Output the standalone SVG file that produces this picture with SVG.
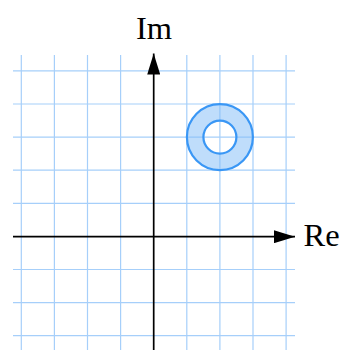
<svg xmlns="http://www.w3.org/2000/svg" width="342" height="350" viewBox="0 0 342 350">
<style>
.grid line{stroke:#a6cffa;stroke-width:1.2}
.axis{stroke:#000;stroke-width:1.7;fill:none}
.lbl{font-family:"Liberation Serif","Times New Roman",serif;font-size:32.5px;fill:#000}
</style>
<defs>
<marker id="ah" viewBox="0 0 21 13" refX="21" refY="6.5" markerWidth="21" markerHeight="13" markerUnits="userSpaceOnUse" orient="auto">
<path d="M0,0 L21,6.5 L0,13 Z" fill="#000"/>
</marker>
</defs>
<rect width="342" height="350" fill="#fff"/>
<g class="grid">
<line x1="21.3" y1="55" x2="21.3" y2="350"/>
<line x1="54.4" y1="55" x2="54.4" y2="350"/>
<line x1="87.5" y1="55" x2="87.5" y2="350"/>
<line x1="120.6" y1="55" x2="120.6" y2="350"/>
<line x1="186.8" y1="55" x2="186.8" y2="350"/>
<line x1="219.9" y1="55" x2="219.9" y2="350"/>
<line x1="253" y1="55" x2="253" y2="350"/>
<line x1="286.1" y1="55" x2="286.1" y2="350"/>
<line x1="13" y1="70.8" x2="295" y2="70.8"/>
<line x1="13" y1="104" x2="295" y2="104"/>
<line x1="13" y1="137.1" x2="295" y2="137.1"/>
<line x1="13" y1="170.2" x2="295" y2="170.2"/>
<line x1="13" y1="203.3" x2="295" y2="203.3"/>
<line x1="13" y1="269.5" x2="295" y2="269.5"/>
<line x1="13" y1="302.6" x2="295" y2="302.6"/>
<line x1="13" y1="335.7" x2="295" y2="335.7"/>
</g>
<g id="annulus">
<path d="M186.9,137.1 a33,33 0 1,0 66,0 a33,33 0 1,0 -66,0 Z M203.4,137.1 a16.5,16.5 0 1,1 33,0 a16.5,16.5 0 1,1 -33,0 Z" fill="#80bcf8" fill-opacity="0.5" fill-rule="evenodd"/>
<circle cx="219.9" cy="137.1" r="33" fill="none" stroke="#3a97f5" stroke-width="2.2"/>
<circle cx="219.9" cy="137.1" r="16.5" fill="none" stroke="#3a97f5" stroke-width="2.2"/>
</g>
<g id="connectors">
<line class="axis" x1="13" y1="236.7" x2="295" y2="236.7" marker-end="url(#ah)"/>
<line class="axis" x1="153.7" y1="350" x2="153.7" y2="53.5" marker-end="url(#ah)"/>
</g>
<g id="label-im"><text class="lbl" x="154" y="38.5" text-anchor="middle">Im</text></g>
<g id="label-re"><text class="lbl" x="303.5" y="245.5">Re</text></g>
</svg>
